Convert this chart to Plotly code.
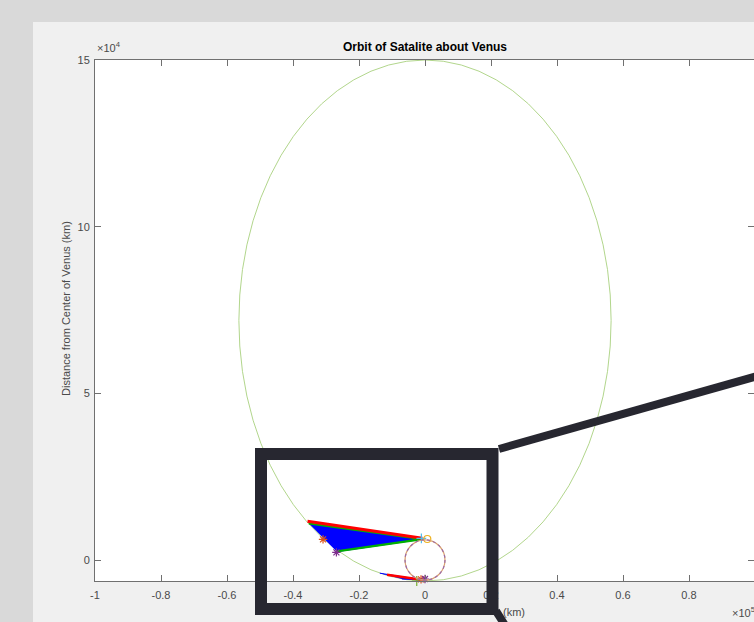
import plotly.graph_objects as go

# ---------------- data (km) ----------------
orbit_center_x = 0
orbit_center_y = 71850
orbit_semi_x = 56400
orbit_semi_y = 78150
venus_radius = 6052

# upper sight-line fan (satellite positions -> point on Venus)
fan_fill_x = [-35100, -800, -26700]
fan_fill_y = [10900, 6250, 2500]
fan_red_x = [-35600, -800]
fan_red_y = [11600, 6500]
fan_green_x = [-35200, -800, -26800]
fan_green_y = [10950, 6250, 2600]

# lower sight-line fan near periapsis
low_fill_x = [-13700, -700, -7000]
low_fill_y = [-3960, -6000, -5700]
low_red_x = [-11500, -1500]
low_red_y = [-4450, -5850]

# markers
star_orange_x = [-30900, -1200]
star_orange_y = [6200, -5800]
star_purple_x = [-26850, 0]
star_purple_y = [2300, -5700]
plus_cyan_x = [-1100]
plus_cyan_y = [6500]
circ_yellow_x = [700]
circ_yellow_y = [6300]
plus_green_x = [-5500, -2500]
plus_green_y = [-6350, -6300]

x_ticks = [-1e5, -0.8e5, -0.6e5, -0.4e5, -0.2e5, 0, 0.2e5, 0.4e5, 0.6e5, 0.8e5]
x_tick_text = ["-1", "-0.8", "-0.6", "-0.4", "-0.2", "0", "0.2", "0.4", "0.6", "0.8"]
y_ticks = [0, 5e4, 10e4, 15e4]
y_tick_text = ["0", "5", "10", "15"]

# ---------------- layout geometry ----------------
W, H = 754, 622
ML, MR, MT, MB = 95, 0, 60, 41
PW, PH = W - ML - MR, H - MT - MB


def px(xp):
    return (xp - ML) / PW


def py(yp):
    return (H - MB - yp) / PH


FONT = "Liberation Sans, Arial, sans-serif"
AXC = "#707070"
TXT = "#4a4a4a"

fig = go.Figure()

fig.add_trace(go.Scatter(x=fan_fill_x, y=fan_fill_y, fill="toself", fillcolor="#0000ff",
                         mode="lines", line=dict(color="#0000ff", width=1), hoverinfo="skip"))
fig.add_trace(go.Scatter(x=fan_green_x, y=fan_green_y, mode="lines",
                         line=dict(color="#00b000", width=2.2)))
fig.add_trace(go.Scatter(x=fan_red_x, y=fan_red_y, mode="lines",
                         line=dict(color="#ff0000", width=3)))
fig.add_trace(go.Scatter(x=low_fill_x, y=low_fill_y, fill="toself", fillcolor="#0000ff",
                         mode="lines", line=dict(color="#0000ff", width=1)))
fig.add_trace(go.Scatter(x=low_red_x, y=low_red_y, mode="lines",
                         line=dict(color="#ff0000", width=2.5)))

mk = dict(mode="markers", cliponaxis=False)
fig.add_trace(go.Scatter(x=plus_green_x, y=plus_green_y,
                         marker=dict(symbol="cross-thin-open", size=7, color="#77AC30",
                                     line=dict(width=1.2, color="#77AC30")), **mk))
fig.add_trace(go.Scatter(x=star_orange_x, y=star_orange_y,
                         marker=dict(symbol="asterisk-open", size=7, color="#D95319",
                                     line=dict(width=1.2, color="#D95319")), **mk))
fig.add_trace(go.Scatter(x=star_purple_x, y=star_purple_y,
                         marker=dict(symbol="asterisk-open", size=7, color="#7E2F8E",
                                     line=dict(width=1.2, color="#7E2F8E")), **mk))
fig.add_trace(go.Scatter(x=plus_cyan_x, y=plus_cyan_y,
                         marker=dict(symbol="cross-thin-open", size=7, color="#4DBEEE",
                                     line=dict(width=1.2, color="#4DBEEE")), **mk))
fig.add_trace(go.Scatter(x=circ_yellow_x, y=circ_yellow_y,
                         marker=dict(symbol="circle-open", size=7, color="#EDB120",
                                     line=dict(width=1.2, color="#EDB120")), **mk))

shapes = []
# orbit ellipse
shapes.append(dict(type="circle", xref="x", yref="y",
                   x0=orbit_center_x - orbit_semi_x, x1=orbit_center_x + orbit_semi_x,
                   y0=orbit_center_y - orbit_semi_y, y1=orbit_center_y + orbit_semi_y,
                   line=dict(color="#b2d68c", width=1), layer="below"))
# Venus
shapes.append(dict(type="circle", xref="x", yref="y",
                   x0=-venus_radius, x1=venus_radius, y0=-venus_radius, y1=venus_radius,
                   line=dict(color="#d9a070", width=1.2), layer="above"))
shapes.append(dict(type="circle", xref="x", yref="y",
                   x0=-venus_radius, x1=venus_radius, y0=-venus_radius, y1=venus_radius,
                   line=dict(color="#9a6aa8", width=1.2, dash="dot"), layer="above"))
# outer grey border
shapes.append(dict(type="rect", xref="paper", yref="paper", x0=px(0), x1=px(33), y0=py(H + 5), y1=py(-5),
                   fillcolor="#d9d9d9", line=dict(width=0), layer="above"))
shapes.append(dict(type="rect", xref="paper", yref="paper", x0=px(0), x1=px(W + 5), y0=py(22), y1=py(-5),
                   fillcolor="#d9d9d9", line=dict(width=0), layer="above"))
# callout box + lines
BOX = "#272730"
shapes.append(dict(type="rect", xref="paper", yref="paper", x0=px(261), x1=px(492.5), y0=py(609), y1=py(454),
                   line=dict(color=BOX, width=12), fillcolor="rgba(0,0,0,0)", layer="above"))
shapes.append(dict(type="line", xref="paper", yref="paper", x0=px(499), y0=py(449), x1=px(800), y1=py(364),
                   line=dict(color=BOX, width=8), layer="above"))
shapes.append(dict(type="line", xref="paper", yref="paper", x0=px(496), y0=py(611), x1=px(515), y1=py(641),
                   line=dict(color=BOX, width=8), layer="above"))

annotations = [
    dict(text="Distance from Center of Venus (km)", textangle=-90, xref="paper", yref="paper",
         x=px(66), y=py(309), showarrow=False, xanchor="center", yanchor="middle",
         font=dict(family=FONT, size=11, color=TXT)),
    dict(text="×10<sup>4</sup>", xref="paper", yref="paper", x=px(95), y=py(56),
         showarrow=False, xanchor="left", yanchor="bottom", font=dict(family=FONT, size=11, color=TXT)),
    dict(text="×10<sup>5</sup>", xref="paper", yref="paper", x=px(730), y=py(612),
         showarrow=False, xanchor="left", yanchor="middle", font=dict(family=FONT, size=11, color=TXT)),
    dict(text="(km)", xref="paper", yref="paper", x=px(501), y=py(612),
         showarrow=False, xanchor="left", yanchor="middle", font=dict(family=FONT, size=11, color=TXT)),
]

fig.update_layout(
    width=W, height=H,
    margin=dict(l=ML, r=MR, t=MT, b=MB, pad=0),
    paper_bgcolor="#f0f0f0", plot_bgcolor="#ffffff",
    showlegend=False,
    title=dict(text="<b>Orbit of Satalite about Venus</b>", x=425 / W, xanchor="center",
               y=1 - 47 / H, yanchor="middle", yref="container", xref="container",
               font=dict(family=FONT, size=12, color="#000000")),
    shapes=shapes, annotations=annotations,
    xaxis=dict(range=[-100000, -100000 + PW * 100000 / 330], tickvals=x_ticks, ticktext=x_tick_text,
               showgrid=False, zeroline=False, showline=True, linecolor=AXC, linewidth=1, mirror="ticks",
               ticks="inside", ticklen=6, tickcolor=AXC, tickwidth=1, ticklabelstandoff=4,
               tickfont=dict(family=FONT, size=11, color=TXT)),
    yaxis=dict(range=[-6300, 150000], tickvals=y_ticks, ticktext=y_tick_text,
               showgrid=False, zeroline=False, showline=True, linecolor=AXC, linewidth=1, mirror="ticks",
               ticks="inside", ticklen=6, tickcolor=AXC, tickwidth=1, ticklabelstandoff=2,
               tickfont=dict(family=FONT, size=11, color=TXT)),
)

fig.write_html("out.html")
